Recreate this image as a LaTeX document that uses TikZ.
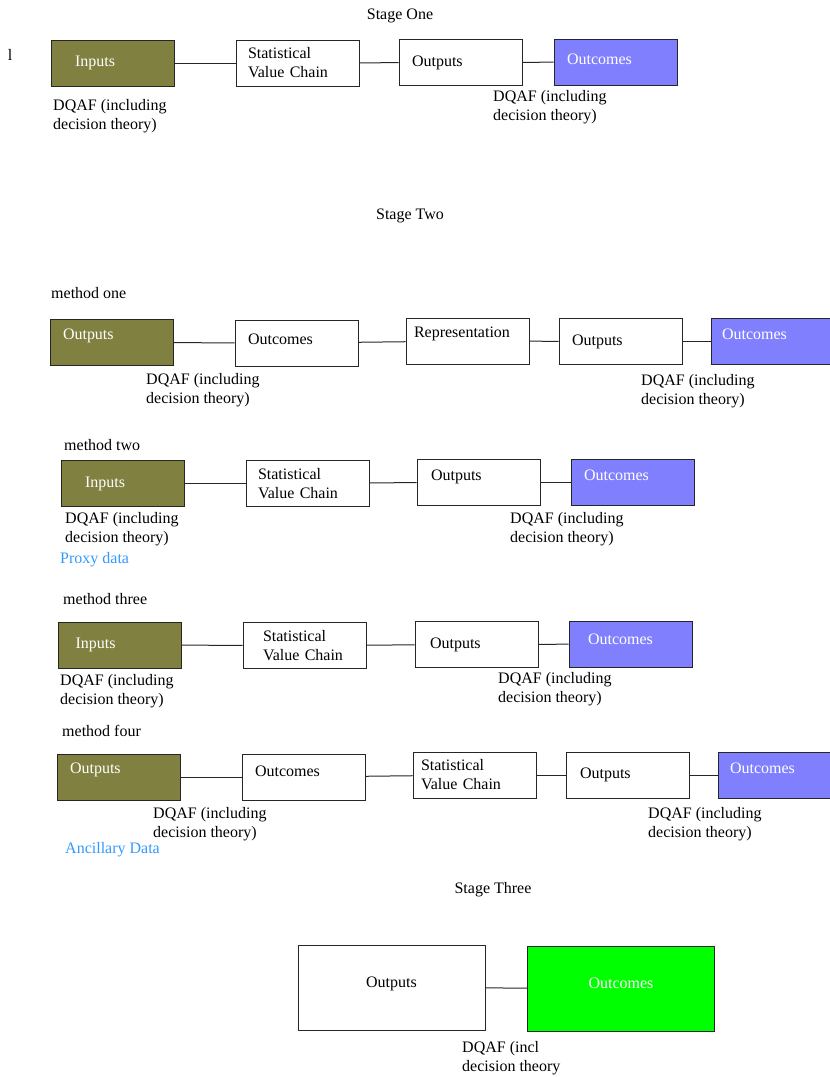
\documentclass[tikz,border=0pt]{standalone}
\usepackage{fontspec}
\setmainfont{Liberation Serif}
\definecolor{olivebox}{RGB}{128,128,64}
\definecolor{bluebox}{RGB}{128,128,255}
\definecolor{greenbox}{RGB}{0,255,0}
\definecolor{notecol}{RGB}{51,153,255}

\begin{document}
\begin{tikzpicture}[x=1pt,y=-1pt,font=\fontsize{16}{19}\selectfont]
\tikzstyle{box} = [rectangle, draw=black!85, line width=1pt, minimum width=123pt, minimum height=46pt, inner xsep=13pt, text width=97pt, align=left]
\tikzstyle{inputs} = [box, fill=olivebox, text=white]
\tikzstyle{goal} = [box, fill=bluebox, text=white]
\tikzstyle{bigbox} = [rectangle, draw=black!85, line width=1pt, minimum width=187pt, minimum height=85pt, align=center]
\tikzstyle{link} = [line width=1pt, black!85]
\tikzstyle{note} = [anchor=west, align=left, inner sep=0pt]
\tikzset{inset/.style={inner xsep=#1, text width=123pt-2*#1}, lift/.style={text depth=#1}}

\useasboundingbox (0,0) rectangle (830,1077);

\node (stray) at (10,55) {l};
\node (st1) at (400,16) {Stage One};
\node [inputs, inset=24pt] (in1) at (112.5,63) {Inputs};
\node [box, inset=12pt] (svc1) at (297.5,63) {Statistical\\Value Chain};
\node [box] (out1) at (460.5,62.5) {Outputs};
\node [goal, lift=5pt] (oc1) at (615.5,62) {Outcomes};
\draw [link] (in1) -- (svc1);
\draw [link] (svc1) -- (out1);
\draw [link] (out1) -- (oc1);
\node [note] (d1a) at (53,116.5) {DQAF (including\\decision theory)};
\node [note] (d1b) at (493,107.5) {DQAF (including\\decision theory)};

\node (st2) at (410,216) {Stage Two};
\node [note] (m1) at (51,293) {method one};
\node [inputs, lift=16pt] (o2) at (111.5,342.5) {Outputs};
\node [box, lift=7pt] (c2) at (296.5,343) {Outcomes};
\node [box, inset=8pt, lift=17pt] (rep2) at (467.5,341) {Representation};
\node [box] (out2) at (620.5,341.5) {Outputs};
\node [goal, inset=11pt, lift=14pt] (oc2) at (772.5,341.5) {Outcomes};
\draw [link] (o2) -- (c2);
\draw [link] (c2) -- (rep2);
\draw [link] (rep2) -- (out2);
\draw [link] (out2) -- (oc2);
\node [note] (d2a) at (146,390.5) {DQAF (including\\decision theory)};
\node [note] (d2b) at (641,391.5) {DQAF (including\\decision theory)};

\node [note] (m2) at (64,445) {method two};
\node [inputs, inset=24pt] (in3) at (122.5,483.5) {Inputs};
\node [box, inset=12pt] (svc3) at (307.5,483.5) {Statistical\\Value Chain};
\node [box, inset=14pt, lift=13pt] (out3) at (478.5,482) {Outputs};
\node [goal, lift=13pt] (oc3) at (632.5,482) {Outcomes};
\draw [link] (in3) -- (svc3);
\draw [link] (svc3) -- (out3);
\draw [link] (out3) -- (oc3);
\node [note] (d3a) at (65,529) {DQAF (including\\decision theory)};
\node [note] (d3b) at (510,529.5) {DQAF (including\\decision theory)};
\node [note, text=notecol] (px) at (60,560) {Proxy data};

\node [note] (m3) at (63,599) {method three};
\node [inputs, inset=17pt] (in4) at (120,645) {Inputs};
\node [box, inset=20pt] (svc4) at (304.5,645.5) {Statistical\\Value Chain};
\node [box, inset=15pt] (out4) at (476.5,644.5) {Outputs};
\node [goal, inset=19pt, lift=10pt] (oc4) at (630.5,644) {Outcomes};
\draw [link] (in4) -- (svc4);
\draw [link] (svc4) -- (out4);
\draw [link] (out4) -- (oc4);
\node [note] (d4a) at (60,691.5) {DQAF (including\\decision theory)};
\node [note] (d4b) at (498,689.5) {DQAF (including\\decision theory)};

\node [note] (m4) at (62,731) {method four};
\node [inputs, lift=17pt] (o5) at (118.5,777) {Outputs};
\node [box, lift=11pt] (c5) at (303.5,777) {Outcomes};
\node [box, inset=8pt] (svc5) at (474.5,775) {Statistical\\Value Chain};
\node [box, inset=14pt] (out5) at (627.5,775) {Outputs};
\node [goal, inset=12pt, lift=13pt] (oc5) at (779.5,775) {Outcomes};
\draw [link] (o5) -- (c5);
\draw [link] (c5) -- (svc5);
\draw [link] (svc5) -- (out5);
\draw [link] (out5) -- (oc5);
\node [note] (d5a) at (153,824) {DQAF (including\\decision theory)};
\node [note] (d5b) at (648,824.5) {DQAF (including\\decision theory)};
\node [note, text=notecol] (anc) at (65,850) {Ancillary Data};

\node (st3) at (493,890) {Stage Three};
\node [bigbox, lift=10pt] (out6) at (391.5,987.5) {Outputs};
\node [bigbox, fill=greenbox, text=white, lift=10pt] (oc6) at (621,988.5) {Outcomes};
\draw [link] (out6) -- (oc6);
\node [note] (d6) at (462,1058.5) {DQAF (incl\\decision theory};
\end{tikzpicture}
\end{document}
